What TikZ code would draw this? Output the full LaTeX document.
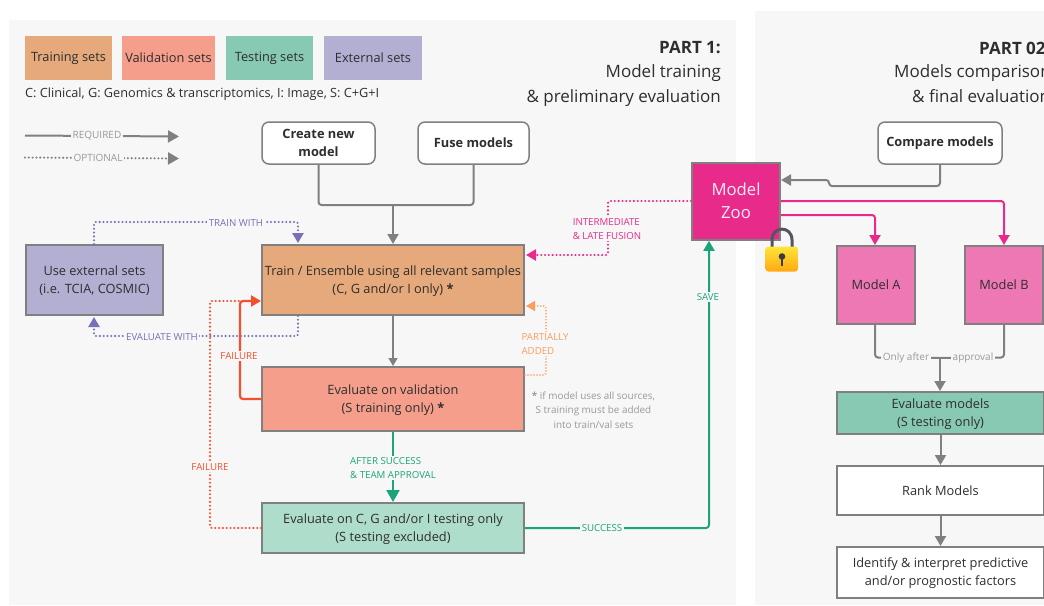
\documentclass[tikz,border=0pt]{standalone}
\usepackage{fontspec}
\setmainfont{Open Sans}
\usetikzlibrary{arrows.meta,calc}
\definecolor{panel}{HTML}{F7F7F7}
\definecolor{edge}{HTML}{808080}
\definecolor{txt}{HTML}{2E2E2E}
\definecolor{cTrain}{HTML}{E5A97B}
\definecolor{cVal}{HTML}{F59E8C}
\definecolor{cTest}{HTML}{88C9B3}
\definecolor{cTestL}{HTML}{AEDDCB}
\definecolor{cExt}{HTML}{B2AFD2}
\definecolor{cZoo}{HTML}{E82A8A}
\definecolor{cModel}{HTML}{EE78B4}
\definecolor{lGreen}{HTML}{1BA37A}
\definecolor{lRed}{HTML}{F4502F}
\definecolor{lPurple}{HTML}{7570B8}
\definecolor{lOrange}{HTML}{FB9D5F}
\definecolor{lGrey}{HTML}{999999}
\newcommand\dn{\rule{0pt}{11.8pt}}
\tikzset{
  x=1pt,y=-1pt,
  every node/.style={font=\fontsize{12.8}{18}\selectfont,text=txt,align=center,inner sep=0pt},
  swatch/.style={minimum height=44pt,text=txt},
  flow/.style={draw=edge,line width=2pt,text=txt},
  softbox/.style={draw=edge,line width=1.5pt,fill=white,rounded corners=7pt,minimum height=42pt},
  boldtext/.style={font=\fontsize{12.8}{18}\selectfont\bfseries},
  title/.style={anchor=east,font=\fontsize{17}{18}\selectfont},
  link/.style={line width=2pt,rounded corners=3pt,-{Triangle[length=10pt,width=11pt]}},
  plain/.style={line width=2pt,rounded corners=3pt},
  dots/.style={line width=2.3pt,rounded corners=2pt,line cap=round,dash pattern=on 0.01pt off 3.8pt},
  dotlink/.style={dots,-{Triangle[length=10pt,width=11pt,sep=1pt]}},
  tag/.style={font=\fontsize{9.7}{14}\selectfont,fill=panel,inner sep=1.5pt},
  greytag/.style={tag,text=lGrey,font=\fontsize{10}{12}\selectfont},
}
\begin{document}
\begin{tikzpicture}
\useasboundingbox (0,0) rectangle (1044,605);
\fill[panel] (9,20) rectangle (736,605);
\fill[panel] (755,11) rectangle (1044,605);
% legend
\node[swatch,fill=cTrain,minimum width=87pt] (lgTrain) at (68.5,58) {Training sets};
\node[swatch,fill=cVal,minimum width=93pt] (lgVal) at (168.5,58) {Validation sets};
\node[swatch,fill=cTest,minimum width=87pt] (lgTest) at (269.5,58) {Testing sets};
\node[swatch,fill=cExt,minimum width=98pt] (lgExt) at (373,58) {External sets};
\node[anchor=west,font=\fontsize{12.7}{14}\selectfont] (keys) at (25,94) {C: Clinical, G: Genomics \& transcriptomics, I: Image, S: C+G+I};
\coordinate (reqA) at (25,135.5); \coordinate (reqB) at (179,136.5);
\coordinate (optA) at (25,157.5); \coordinate (optB) at (180,158.5);
\draw[plain,edge,-{Triangle[length=11pt,width=12pt]}] (reqA) -- (reqB);
\draw[dots,edge,-{Triangle[length=11pt,width=12pt,sep=1pt]}] (optA) -- (optB);
\node[greytag] (reqT) at (97,136) {REQUIRED};
\node[greytag] (optT) at (98,158) {OPTIONAL};
% titles
\node[title,font=\fontsize{17}{18}\selectfont\bfseries] (p1a) at (721,48) {PART 1:};
\node[title] (p1b) at (721,73) {Model training};
\node[title] (p1c) at (721,98) {\& preliminary evaluation};
\node[title,anchor=west,font=\fontsize{17}{18}\selectfont\bfseries] (p2a) at (979,48) {PART 02:};
\node[title,anchor=west] (p2b) at (894,73) {Models comparison};
\node[title,anchor=west] (p2c) at (912,96) {\& final evaluation};
% part 1 nodes
\node[softbox,boldtext,minimum width=113pt] (create) at (318.5,143) {Create new\\model};
\node[softbox,boldtext,minimum width=111pt] (fuse) at (473.5,143) {Fuse models};
\node[flow,fill=cTrain,minimum width=262pt,minimum height=70pt] (train) at (393,280) {\dn Train / Ensemble using all relevant samples\\(C, G and/or I only) \textbf{*}};
\node[flow,fill=cVal,minimum width=262pt,minimum height=64pt] (val) at (393,399) {\dn Evaluate on validation\\(S training only) \textbf{*}};
\node[flow,fill=cTestL,minimum width=262pt,minimum height=50pt] (test) at (393,528) {\dn Evaluate on C, G and/or I testing only\\(S testing excluded)};
\node[flow,fill=cExt,minimum width=137pt,minimum height=70pt] (ext) at (94.5,280) {\dn Use external sets\\(i.e. TCIA, COSMIC)};
\node[flow,fill=cZoo,minimum width=88pt,minimum height=77pt,text=white!92!cZoo,font=\fontsize{16.7}{23}\selectfont] (zoo) at (736,201.5) {Model\\[0pt]Zoo\rule[-2pt]{0pt}{2pt}};
% part 2 nodes
\node[softbox,boldtext,minimum width=124pt] (compare) at (940,143) {Compare models};
\node[flow,fill=cModel,minimum width=78pt,minimum height=78pt] (ma) at (876,285) {Model A};
\node[flow,fill=cModel,minimum width=78pt,minimum height=78pt] (mb) at (1004,285) {Model B};
\node[flow,fill=cTest,minimum width=207pt,minimum height=42pt] (evalm) at (940.5,413) {\dn Evaluate models\\(S testing only)};
\node[flow,fill=white,minimum width=207pt,minimum height=49pt] (rank) at (940.5,490.5) {Rank Models};
\node[flow,fill=white,minimum width=207pt,minimum height=51pt] (ident) at (940.5,572.5) {\dn Identify \& interpret predictive\\and/or prognostic factors};
% note
\node[font=\fontsize{9.9}{14.5}\selectfont,text=lGrey] (note) at (593.5,410) {\textbf{*} if model uses all sources,\\S training must be added\\into train/val sets};
% grey connectors
\coordinate (joinTop) at (393,205);
\draw[plain,edge] (create.south) |- (joinTop);
\draw[plain,edge] (fuse.south) |- (joinTop);
\draw[link,edge] (joinTop) -- (train.north);
\draw[edge,line width=1.5pt,-{Triangle[length=8pt,width=9pt]}] (train.south) -- (val.north);
% green connectors
\draw[draw=lGreen,line width=2.2pt,-{Triangle[length=12pt,width=13pt]}] (val.south) -- (test.north);
\node[tag,text=lGreen,align=left] (appr) at (393,468) {AFTER SUCCESS\\\& TEAM APPROVAL};
\coordinate (saveT) at (709,240.8);
\draw[link,lGreen] (test.east) -- (709,528) -- (saveT);
\node[tag,text=lGreen] (succ) at (602,528) {SUCCESS};
\node[tag,text=lGreen] (saveL) at (708,297) {SAVE};
% purple connectors
\coordinate (tw) at (298,222); \coordinate (extTop) at (94,222);
\draw[dotlink,lPurple] (ext.north -| extTop) -- (extTop) -- (tw) -- (train.north -| tw);
\node[tag,text=lPurple] (twL) at (236,223) {TRAIN WITH};
\coordinate (ew) at (298,336); \coordinate (extBot) at (94,336);
\draw[dotlink,lPurple] (train.south -| ew) -- (ew) -- (extBot) -- (ext.south -| extBot);
% red connectors
\coordinate (fA) at (240,399); \coordinate (fB) at (240,301); \coordinate (tIn) at (261,301);
\coordinate (gA) at (210,528); \coordinate (gB) at (210,301);
\draw[dots,lRed] (test.west) -- (gA) -- (gB) -- (fB);
\draw[link,lRed,line width=2.2pt] (val.west) -- (fA) -- (fB) -- (tIn);
\node[tag,text=lRed] (fL1) at (239,356) {FAILURE};
\node[tag,text=lRed] (fL2) at (210,467) {FAILURE};
\node[tag,text=lPurple] (ewL) at (162,337) {EVALUATE WITH};
% pink dotted
\coordinate (zA) at (608,201); \coordinate (zB) at (608,255); \coordinate (trIn) at (525,255);
\draw[dotlink,cZoo] (zoo.west |- zA) -- (zA) -- (zB) -- (trIn);
\node[tag,text=cZoo,align=left] (fus) at (607,229) {INTERMEDIATE\\\& LATE FUSION};
% orange dotted
\coordinate (oA) at (546,375); \coordinate (oB) at (546,306); \coordinate (oC) at (525,306);
\draw[dotlink,lOrange,line width=1.7pt,dash pattern=on 0.01pt off 3pt,-{Triangle[length=9pt,width=10pt,sep=1pt]}] (val.east |- oA) -- (oA) -- (oB) -- (oC);
\node[tag,text=lOrange,align=left] (part) at (545,344) {PARTIALLY\\ADDED};
% zoo connectors
\coordinate (cmpA) at (940,186); \coordinate (cmpB) at (829,186); \coordinate (cmpC) at (829,180);
\draw[link,edge] (compare.south) -- (cmpA) -- (cmpB) -- (cmpC) -- (zoo.east |- cmpC);
\coordinate (zbA) at (1004,201); \coordinate (zaA) at (875,215);
\draw[link,cZoo] (zoo.east |- zbA) -- (zbA) -- (mb.north -| zbA);
\draw[link,cZoo] (zoo.east |- zaA) -- (zaA) -- (ma.north -| zaA);
% approval
\coordinate (apA) at (875,357.5); \coordinate (apB) at (1004,357.5); \coordinate (apJ) at (940,358);
\draw[plain,edge] (ma.south -| apA) -- (apA) -- (apJ);
\draw[plain,edge] (mb.south -| apB) -- (apB) -- (apJ);
\draw[link,edge] (apJ) -- (evalm.north -| apJ);
\node[greytag] (oa) at (906,358) {Only after};
\node[greytag] (ap) at (973,358) {approval};
\draw[edge,line width=2pt,-{Triangle[length=10pt,width=11pt]}] (evalm.south) -- (rank.north);
\draw[edge,line width=2pt,-{Triangle[length=10pt,width=11pt]}] (rank.south) -- (ident.north);
% lock
\definecolor{lockArm}{HTML}{55555F}
\definecolor{lockTop}{HTML}{FFE53B}
\definecolor{lockBot}{HTML}{FFA90F}
\draw[draw=lockArm,line width=3pt] (772,248) -- (772,240) .. controls (772,225.5) and (792,225.5) .. (792,240) -- (792,248);
\shade[top color=lockTop,bottom color=lockBot,rounded corners=3pt] (765.5,246.5) rectangle (798,271.5);
\fill[lockArm!70!black] (782,256.5) circle (3.3pt);
\fill[lockArm!70!black] (780.6,257) rectangle (783.4,265.5);
\end{tikzpicture}
\end{document}
